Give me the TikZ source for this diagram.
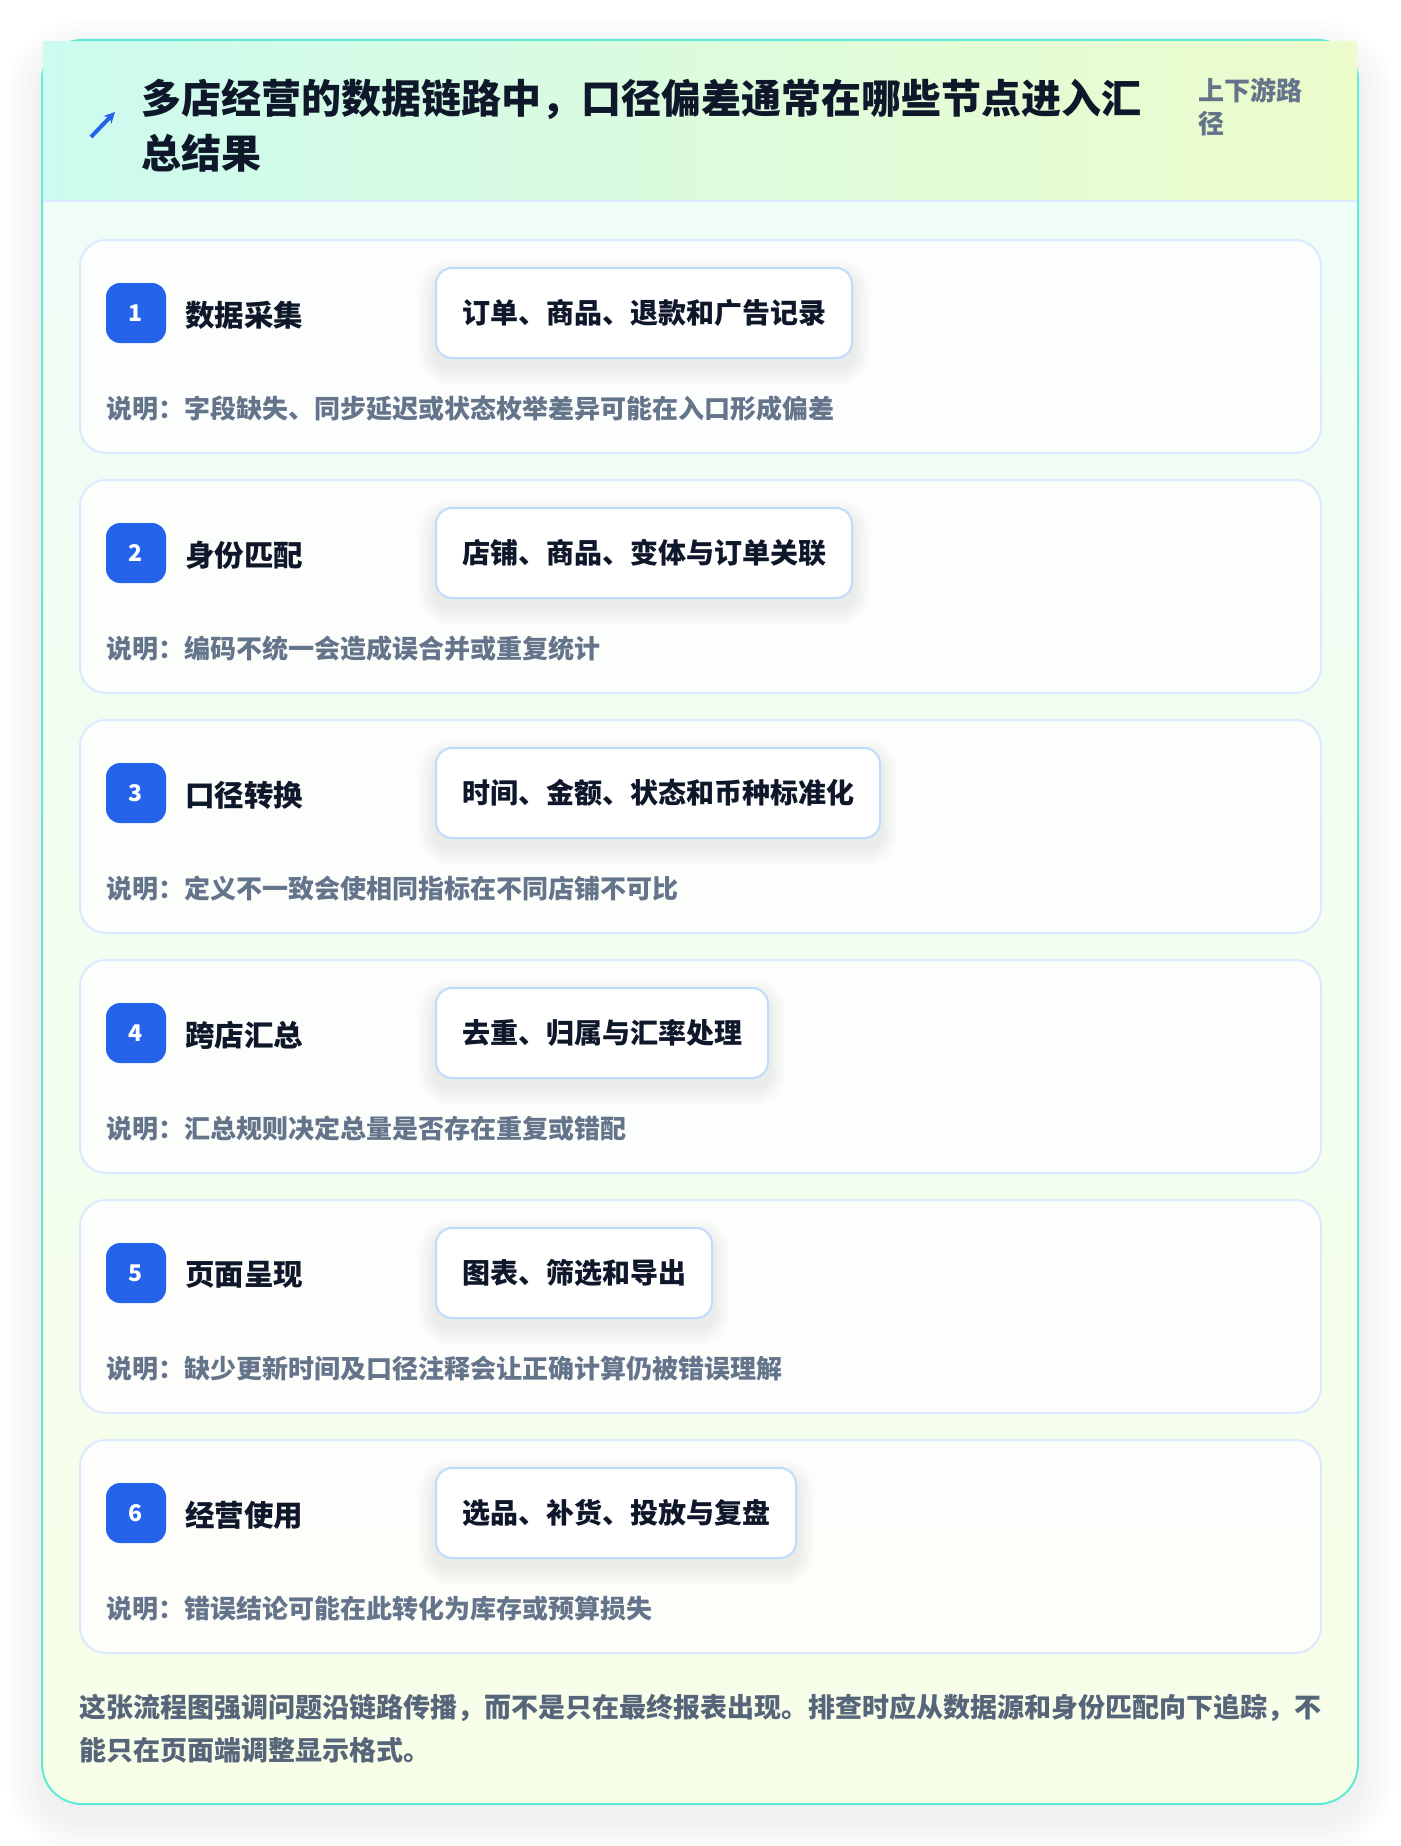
\documentclass[tikz,border=0pt]{standalone}
\usepackage{fontspec}
\setmainfont{Noto Sans CJK SC}
\usetikzlibrary{arrows.meta,calc}
\pgfdeclarelayer{back}
\pgfdeclarelayer{cards}
\pgfdeclarelayer{vshadow}
\pgfsetlayers{back,cards,vshadow,main}
\definecolor{cardline}{HTML}{5EEAD4}
\definecolor{bodytop}{HTML}{EFFDF8}
\definecolor{bodybot}{HTML}{F7FEE8}
\definecolor{hdrl}{HTML}{CCFBEF}
\definecolor{hdrr}{HTML}{ECFCCB}
\definecolor{hdrline}{HTML}{DBEAFE}
\definecolor{stepline}{HTML}{DBEAFE}
\definecolor{valline}{HTML}{BFDBFE}
\definecolor{badgeblue}{HTML}{2563EB}
\definecolor{ink}{HTML}{0F172A}
\definecolor{muted}{HTML}{64748B}
\definecolor{footink}{HTML}{566579}
\definecolor{shadowc}{HTML}{1E293B}
\begin{document}
\begin{tikzpicture}[x=1pt,y=-1pt,
  stepcard/.style={draw=stepline, line width=2pt, fill=white, fill opacity=0.8, text opacity=1,
    rounded corners=26pt, minimum width=1241pt, minimum height=213pt, inner sep=0pt, anchor=north west},
  badge/.style={fill=badgeblue, text=white, rounded corners=14pt, minimum width=60pt, minimum height=60pt,
    inner sep=0pt, font=\fontsize{23}{26}\selectfont\bfseries},
  steplabel/.style={anchor=west, inner sep=0pt, text=ink, font=\fontsize{29.5}{34}\selectfont\bfseries},
  valbox/.style={anchor=west, draw=valline, line width=2pt, fill=white, rounded corners=16pt,
    minimum height=90pt, inner xsep=26pt, inner ysep=0pt, text=ink,
    font=\fontsize{28}{34}\selectfont\bfseries},
  notetext/.style={anchor=west, inner sep=0pt, text=muted, font=\fontsize{26}{32}\selectfont\bfseries},
  shadowlayer/.style={fill=shadowc, fill opacity=#1},
]
\useasboundingbox (0,0) rectangle (1400,1846);
\begin{pgfonlayer}{back}
\fill[white] (0,0) rectangle (1400,1846);
% soft shadow of the main card
\foreach \k in {1,...,14}{
  \pgfmathsetmacro{\e}{\k*2.6}
  \pgfmathsetmacro{\r}{40+\e}
  \fill[shadowlayer=0.0055, rounded corners=\r pt] (42-\e,40+14-\e) rectangle (1358+\e,1804+14+\e);
}
% main card
\path[draw=cardline, line width=2pt, rounded corners=40pt, top color=bodytop, bottom color=bodybot]
  (42,40) rectangle (1358,1804);
% header
\fill[left color=hdrl, right color=hdrr] (43,42) rectangle (1357,201);
\draw[hdrline, line width=2pt] (43,201) -- (1357,201);
\end{pgfonlayer}
% icon
\coordinate (arrtail) at (91,137);
\coordinate (arrhead) at (115,112);
\draw[badgeblue, line width=4pt, -{Stealth[length=11pt,width=11pt]}] (arrtail) -- (arrhead);
% title
\node[anchor=west, align=left, inner sep=0pt, text=ink, font=\fontsize{40}{55}\selectfont\bfseries] (title)
  at (141,125.5) {多店经营的数据链路中，口径偏差通常在哪些节点进入汇\\总结果};
\node[anchor=west, align=left, inner sep=0pt, text=muted, font=\fontsize{26}{33}\selectfont\bfseries] (side)
  at (1198,107) {上下游路\\径};
% steps
\foreach \i/\lab/\val/\note in {
  1/数据采集/订单、商品、退款和广告记录/字段缺失、同步延迟或状态枚举差异可能在入口形成偏差,
  2/身份匹配/店铺、商品、变体与订单关联/编码不统一会造成误合并或重复统计,
  3/口径转换/时间、金额、状态和币种标准化/定义不一致会使相同指标在不同店铺不可比,
  4/跨店汇总/去重、归属与汇率处理/汇总规则决定总量是否存在重复或错配,
  5/页面呈现/图表、筛选和导出/缺少更新时间及口径注释会让正确计算仍被错误理解,
  6/经营使用/选品、补货、投放与复盘/错误结论可能在此转化为库存或预算损失}{
  \pgfmathsetmacro{\top}{239+240*(\i-1)}
  \begin{pgfonlayer}{cards}
  \node[stepcard] (card\i) at (79,\top) {};
  \end{pgfonlayer}
  \node[badge] (badge\i) at (136,\top+74) {\i};
  \node[steplabel] (label\i) at (185,\top+76) {\lab};
  \node[valbox] (val\i) at (435,\top+74) {\val};
  \begin{pgfonlayer}{vshadow}
  \foreach \k in {1,...,9}{
    \pgfmathsetmacro{\e}{\k*1.9}
    \pgfmathsetmacro{\r}{16+\e}
    \fill[shadowlayer=0.0065, rounded corners=\r pt]
      ($(val\i.south west)+(-\e,9+\e)$) rectangle ($(val\i.north east)+(\e,9-\e)$);
  }
  \end{pgfonlayer}
  \node[notetext] (note\i) at (106,\top+170) {说明：\note};
}
% footer
\node[anchor=west, align=left, inner sep=0pt, text=footink, font=\fontsize{27}{43}\selectfont\bfseries] (foot)
  at (79,1728.5) {这张流程图强调问题沿链路传播，而不是只在最终报表出现。排查时应从数据源和身份匹配向下追踪，不\\能只在页面端调整显示格式。};
\end{tikzpicture}
\end{document}
